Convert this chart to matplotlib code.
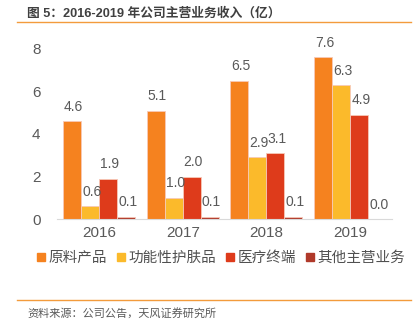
import matplotlib.pyplot as plt
import numpy as np
from matplotlib.lines import Line2D

plt.rcParams['font.family'] = ['Liberation Sans', 'Noto Sans CJK SC', 'DejaVu Sans']

years = ["2016", "2017", "2018", "2019"]
series_names = ["原料产品", "功能性护肤品", "医疗终端", "其他主营业务"]
raw_material = [4.6, 5.1, 6.5, 7.6]
skincare = [0.6, 1.0, 2.9, 6.3]
medical = [1.9, 2.0, 3.1, 4.9]
other = [0.1, 0.1, 0.1, 0.0]
colors = ["#F5821F", "#FBBA2B", "#DE3B1B", "#B0392A"]

fig = plt.figure(figsize=(4.17, 3.26), dpi=100)
ax = fig.add_axes([0.137, 0.328, 0.803, 0.522])

x = np.arange(len(years))
width = 0.215
all_series = [raw_material, skincare, medical, other]
for i, (vals, col) in enumerate(zip(all_series, colors)):
    pos = x + (i - 1.5) * width
    bars = ax.bar(pos, vals, width, color=col, edgecolor="#F7C9B8", linewidth=0.6)
    for b, v in zip(bars, vals):
        ax.text(b.get_x() + b.get_width() / 2 + 0.02, v + 0.35, f"{v:.1f}",
                ha="center", va="bottom", fontsize=10, color="#595959")

ax.set_xlim(-0.5, 3.5)
ax.set_ylim(0, 8)
ax.set_yticks([0, 2, 4, 6, 8])
ax.set_xticks(x)
ax.set_xticklabels(years)
ax.tick_params(axis="both", length=0, labelsize=11, colors="#595959")
ax.tick_params(axis="y", pad=12)
ax.tick_params(axis="x", pad=5)
for s in ["top", "right", "left"]:
    ax.spines[s].set_visible(False)
ax.spines["bottom"].set_color("#D9D9D9")

handles = [Line2D([], [], marker="s", linestyle="", color=c, markersize=6) for c in colors]
fig.legend(handles, series_names, loc="center", bbox_to_anchor=(0.528, 0.208), ncol=4,
           frameon=False, fontsize=10.5, handletextpad=0.1, handlelength=0.8,
           columnspacing=0.55, labelcolor="#505050")

fig.text(0.065, 0.96, "图 5：2016-2019 年公司主营业务收入（亿）", fontsize=9.2,
         fontweight="bold", color="#404040", va="center")
fig.add_artist(Line2D([0.04, 0.985], [0.933, 0.933], color="#F39B3C", linewidth=1))
fig.add_artist(Line2D([0.04, 0.985], [0.08, 0.08], color="#F39B3C", linewidth=1))
fig.text(0.065, 0.04, "资料来源：公司公告，天风证券研究所", fontsize=8,
         color="#595959", va="center")

plt.savefig("out.png", dpi=100)
